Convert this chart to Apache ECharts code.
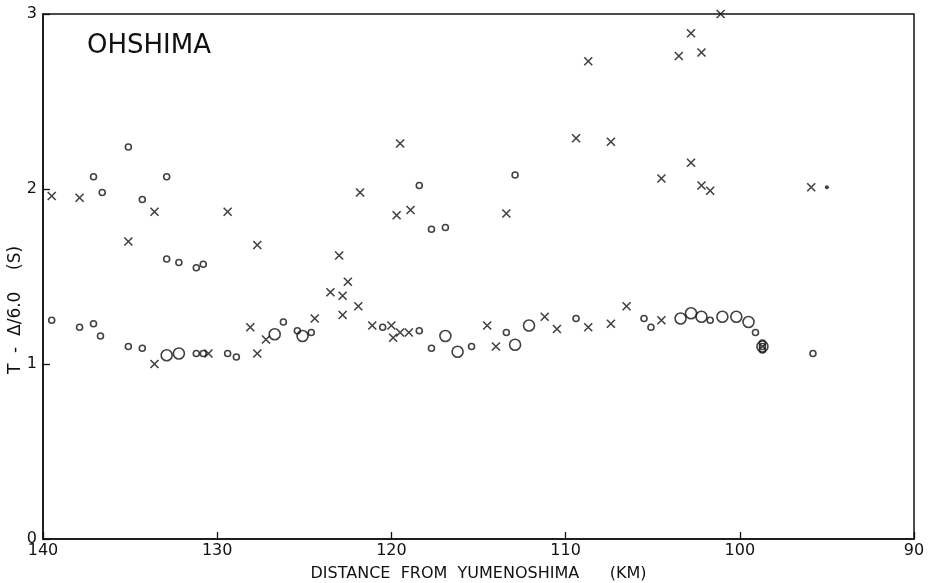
<!DOCTYPE html>
<html>
<head>
<meta charset="utf-8">
<script src="https://cdn.jsdelivr.net/npm/echarts@6/dist/echarts.min.js"></script>
<style>
html,body{margin:0;padding:0;background:#fff;}
#c{width:930px;height:583px;}
</style>
</head>
<body>
<div id="c"></div>
<script>
// Distance (km), T - Δ/6.0 (s)
var smallCircles = [
  [135.1, 2.24], [137.1, 2.07], [136.6, 1.98], [134.3, 1.94], [132.9, 2.07],
  [132.9, 1.60], [132.2, 1.58], [131.2, 1.55], [130.8, 1.57], [118.4, 2.02],
  [112.9, 2.08], [117.7, 1.77], [116.9, 1.78],
  [139.5, 1.25], [137.9, 1.21], [137.1, 1.23], [136.7, 1.16], [135.1, 1.10],
  [134.3, 1.09], [131.2, 1.06], [130.8, 1.06], [129.4, 1.06], [128.9, 1.04],
  [126.2, 1.24], [125.4, 1.19], [124.6, 1.18], [120.5, 1.21], [118.4, 1.19],
  [117.7, 1.09], [115.4, 1.10], [113.4, 1.18], [109.4, 1.26], [105.5, 1.26],
  [105.1, 1.21], [101.7, 1.25], [99.1, 1.18], [98.7, 1.12], [98.7, 1.10],
  [98.7, 1.08], [95.8, 1.06]
];
var largeCircles = [
  [132.9, 1.05], [132.2, 1.06], [126.7, 1.17], [125.1, 1.16], [116.9, 1.16],
  [116.2, 1.07], [112.9, 1.11], [112.1, 1.22], [103.4, 1.26], [102.8, 1.29],
  [102.2, 1.27], [101.0, 1.27], [100.2, 1.27], [99.5, 1.24], [98.7, 1.10]
];
var crosses = [
  [139.5, 1.96], [137.9, 1.95], [133.6, 1.87], [135.1, 1.70], [129.4, 1.87],
  [127.7, 1.68], [108.7, 2.73], [109.4, 2.29], [107.4, 2.27], [119.5, 2.26],
  [121.8, 1.98], [119.7, 1.85], [118.9, 1.88], [113.4, 1.86], [123.0, 1.62],
  [101.1, 3.00], [102.8, 2.89], [103.5, 2.76], [102.2, 2.78], [102.8, 2.15],
  [104.5, 2.06], [102.2, 2.02], [101.7, 1.99], [95.9, 2.01],
  [133.6, 1.00], [130.5, 1.06], [128.1, 1.21], [127.7, 1.06], [127.2, 1.14],
  [124.4, 1.26], [123.5, 1.41], [122.8, 1.39], [122.5, 1.47], [122.8, 1.28],
  [121.9, 1.33], [121.1, 1.22], [120.0, 1.22], [119.5, 1.18], [119.9, 1.15],
  [119.0, 1.18], [114.5, 1.22], [114.0, 1.10], [111.2, 1.27], [110.5, 1.20],
  [108.7, 1.21], [107.4, 1.23], [106.5, 1.33], [104.5, 1.25]
];
var dots = [[95.0, 2.01]];
var xTicks = [90, 140, 10];
var yTicks = [0, 3, 1];
var titleText = 'OHSHIMA';
var xName = 'DISTANCE  FROM  YUMENOSHIMA      (KM)';
var yName = 'T  -  Δ/6.0    (S)';

var ink = '#111';
var font = 'DejaVu Sans';
var chart = echarts.init(document.getElementById('c'), null, {renderer: 'canvas'});
var crossPath = 'path://M0,0L10,10M10,0L0,10';

chart.setOption({
  backgroundColor: '#fff',
  animation: false,
  grid: {left: 43, right: 16, top: 14, bottom: 44, containLabel: false, outerBoundsMode: 'none',
         show: true, borderColor: ink, borderWidth: 1.5, backgroundColor: 'transparent'},
  xAxis: {
    type: 'value', inverse: true, min: xTicks[0], max: xTicks[1], interval: xTicks[2],
    axisLine: {show: true, onZero: false, lineStyle: {color: ink, width: 1.5}},
    axisTick: {show: true, inside: true, length: 7, lineStyle: {color: ink, width: 1.3}},
    splitLine: {show: false},
    axisLabel: {color: ink, fontFamily: font, fontSize: 16, margin: 4},
    name: xName, nameLocation: 'middle', nameGap: 27,
    nameTextStyle: {color: ink, fontFamily: font, fontSize: 16}
  },
  yAxis: {
    type: 'value', min: yTicks[0], max: yTicks[1], interval: yTicks[2],
    axisLine: {show: true, onZero: false, lineStyle: {color: ink, width: 1.5}},
    axisTick: {show: true, inside: true, length: 7, lineStyle: {color: ink, width: 1.3}},
    splitLine: {show: false},
    axisLabel: {color: ink, fontFamily: font, fontSize: 16, margin: 6}
  },
  graphic: [
    {type: 'text', left: 87, top: 33, style: {text: titleText, fill: ink, font: '26px "DejaVu Sans"'}},
    {type: 'text', x: 16, y: 310, rotation: Math.PI / 2, style: {text: yName, fill: ink, font: '17px "DejaVu Sans"', align: 'center', verticalAlign: 'middle'}}
  ],
  series: [
    {type: 'scatter', data: smallCircles, symbol: 'circle', symbolSize: 6,
     itemStyle: {color: 'transparent', borderColor: ink, borderWidth: 1.6}},
    {type: 'scatter', data: largeCircles, symbol: 'circle', symbolSize: 11,
     itemStyle: {color: 'transparent', borderColor: ink, borderWidth: 1.6}},
    {type: 'scatter', data: crosses, symbol: crossPath, symbolSize: 8,
     itemStyle: {color: 'transparent', borderColor: ink, borderWidth: 1.6}},
    {type: 'scatter', data: dots, symbol: 'circle', symbolSize: 4,
     itemStyle: {color: ink}}
  ]
});
</script>
</body>
</html>
